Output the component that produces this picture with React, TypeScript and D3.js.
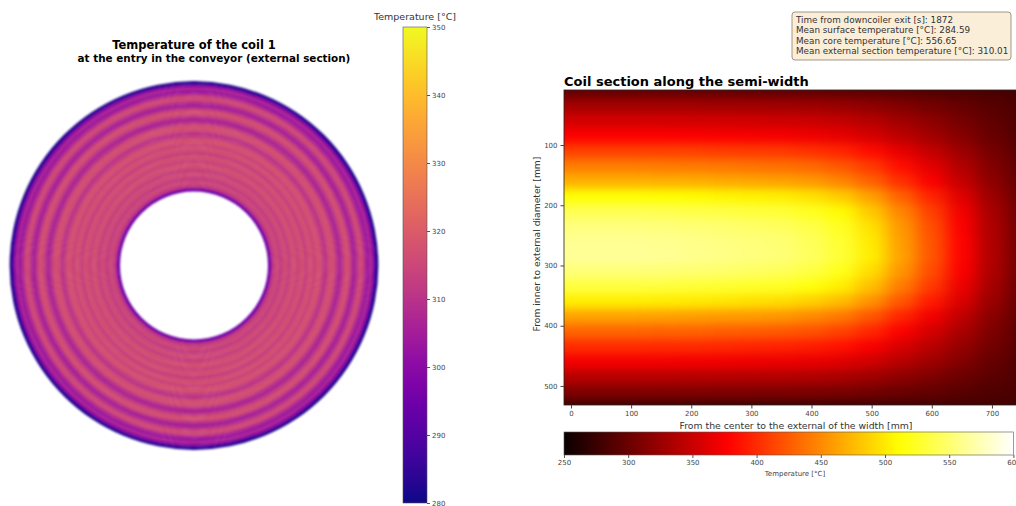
import React, { useEffect, useRef } from "react";
import * as d3 from "d3";

const W = 1016;
const H = 506;

// left panel: temperature across the coil thickness, inner edge -> outer edge [°C]
const ringTemps = [
  295, 309, 314, 315, 312, 315, 316, 313, 316, 317, 314, 316, 317, 313, 316, 317,
  314, 317, 317, 313, 310, 315, 317, 316, 310, 306, 311, 316, 317, 311, 305, 309,
  315, 315, 308, 303, 307, 300, 283,
];
const ringTicks = [280, 290, 300, 310, 320, 330, 340, 350];

// right panel: section grid, columns = position along the width [mm], rows = depth from inner diameter [mm]
const widthPos = [0, 50, 100, 150, 200, 250, 300, 350, 400, 450, 500, 550, 600, 650, 700, 750];
const depthPos = [10, 35, 60, 85, 110, 135, 160, 185, 210, 235, 260, 285, 310, 335, 360, 385, 410, 435, 460, 485, 510, 535];
const sectionTemps = [
  [297, 297, 297, 297, 297, 297, 296, 296, 296, 295, 293, 291, 288, 286, 283, 281],
  [330, 330, 330, 330, 330, 329, 329, 328, 327, 324, 319, 312, 305, 298, 290, 284],
  [355, 355, 355, 355, 354, 354, 353, 352, 350, 346, 339, 328, 318, 306, 295, 286],
  [377, 377, 377, 377, 376, 375, 374, 373, 370, 365, 356, 342, 329, 314, 299, 288],
  [412, 412, 412, 411, 411, 409, 408, 407, 403, 396, 383, 364, 346, 326, 306, 291],
  [443, 443, 443, 442, 441, 440, 438, 436, 432, 423, 407, 384, 362, 337, 313, 293],
  [470, 470, 470, 469, 468, 466, 464, 462, 457, 447, 428, 402, 375, 347, 318, 295],
  [512, 512, 512, 511, 510, 507, 505, 503, 496, 484, 461, 428, 396, 361, 326, 299],
  [540, 540, 540, 539, 537, 535, 532, 530, 522, 509, 482, 447, 410, 371, 332, 301],
  [555, 555, 555, 554, 552, 550, 547, 544, 536, 522, 495, 456, 418, 376, 335, 302],
  [562, 562, 562, 561, 559, 556, 554, 551, 542, 528, 500, 460, 421, 379, 336, 303],
  [564, 564, 564, 563, 561, 558, 555, 553, 544, 530, 502, 462, 422, 379, 337, 303],
  [553, 553, 553, 552, 550, 548, 545, 542, 534, 520, 493, 455, 417, 376, 335, 302],
  [533, 533, 533, 532, 530, 528, 525, 523, 515, 502, 477, 442, 407, 368, 331, 300],
  [502, 502, 502, 501, 500, 498, 495, 493, 486, 475, 453, 422, 391, 358, 324, 298],
  [462, 462, 462, 461, 460, 458, 457, 455, 449, 440, 422, 396, 371, 344, 316, 295],
  [430, 430, 430, 429, 429, 427, 426, 424, 420, 412, 397, 376, 355, 333, 310, 292],
  [400, 400, 400, 399, 399, 398, 396, 395, 392, 386, 374, 357, 340, 322, 304, 290],
  [372, 372, 372, 372, 371, 370, 369, 368, 366, 361, 352, 339, 326, 312, 298, 287],
  [340, 340, 340, 340, 339, 339, 338, 338, 336, 333, 327, 318, 310, 301, 292, 285],
  [312, 312, 312, 312, 312, 311, 311, 311, 310, 308, 305, 300, 296, 291, 286, 283],
  [278, 278, 278, 278, 278, 278, 278, 278, 278, 278, 278, 279, 279, 279, 280, 280],
];
const sectionXTicks = [0, 100, 200, 300, 400, 500, 600, 700];
const sectionYTicks = [100, 200, 300, 400, 500];
const hotTicks = [250, 300, 350, 400, 450, 500, 550, 600];

const infoLines = [
  "Time from downcoiler exit [s]: 1872",
  "Mean surface temperature [°C]: 284.59",
  "Mean core temperature [°C]: 556.65",
  "Mean external section temperature [°C]: 310.01",
];

// matplotlib "hot" colormap
function hot(t: number) {
  const c = (v: number) => Math.max(0, Math.min(1, v));
  const r = c(0.0416 + (t * (1 - 0.0416)) / 0.365079);
  const g = c((t - 0.365079) / (0.746032 - 0.365079));
  const b = c((t - 0.746032) / (1 - 0.746032));
  return d3.rgb(r * 255, g * 255, b * 255).toString();
}

const FONT = "DejaVu Sans, Verdana, sans-serif";

export default function App() {
  const ref = useRef<SVGSVGElement>(null);

  useEffect(() => {
    const svg = d3.select(ref.current);
    svg.selectAll("*").remove();
    const defs = svg.append("defs");

    // ---------- left: coil ring ----------
    const plasma = d3.scaleSequential(d3.interpolatePlasma).domain([280, 350]);
    const rScale = d3.scaleLinear().domain([0, ringTemps.length]).range([74, 184]);
    const arc = d3.arc<any>();

    const ringBlur = defs.append("filter").attr("id", "ringBlur")
      .attr("color-interpolation-filters", "sRGB");
    ringBlur.append("feGaussianBlur").attr("stdDeviation", 0.9);

    svg.append("g")
      .attr("transform", "translate(194,265.5)")
      .attr("filter", "url(#ringBlur)")
      .selectAll("path")
      .data(ringTemps)
      .join("path")
      .attr("d", (d, i) => arc({ innerRadius: rScale(i), outerRadius: rScale(i + 1) + 0.4, startAngle: 0, endAngle: 2 * Math.PI }))
      .attr("fill", (d) => plasma(d));

    svg.append("text").attr("x", 194).attr("y", 49).attr("text-anchor", "middle")
      .attr("font-size", 11.5).attr("font-weight", "bold").text("Temperature of the coil 1");
    svg.append("text").attr("x", 214).attr("y", 61.5).attr("text-anchor", "middle")
      .attr("font-size", 10.4).attr("font-weight", "bold").text("at the entry in the conveyor (external section)");

    // vertical colorbar
    const cbY = d3.scaleLinear().domain([280, 350]).range([503, 27]);
    const vGrad = defs.append("linearGradient").attr("id", "plasmaGrad")
      .attr("x1", 0).attr("y1", 1).attr("x2", 0).attr("y2", 0);
    d3.range(0, 1.0001, 0.05).forEach((t) => {
      vGrad.append("stop").attr("offset", t).attr("stop-color", plasma(280 + t * 70));
    });
    svg.append("rect").attr("x", 403).attr("y", 27).attr("width", 24).attr("height", 476)
      .attr("fill", "url(#plasmaGrad)").attr("stroke", "#555").attr("stroke-width", 0.6);
    const cbAxis = svg.append("g").attr("transform", "translate(427,0)")
      .call(d3.axisRight(cbY).tickValues(ringTicks).tickSize(3).tickPadding(2));
    cbAxis.select(".domain").remove();
    cbAxis.selectAll("text").attr("font-size", 7).attr("fill", "#444").attr("font-family", FONT);
    cbAxis.selectAll("line").attr("stroke", "#555");
    svg.append("text").attr("x", 415).attr("y", 20).attr("text-anchor", "middle")
      .attr("font-size", 9.5).attr("fill", "#333").text("Temperature [°C]");

    // ---------- right: coil section ----------
    const x = d3.scaleLinear().domain([-11.6, 745]).range([564, 1019]);
    const y = d3.scaleLinear().domain([8.7, 531.6]).range([90, 405]);
    const heat = (v: number) => hot((v - 250) / 350);

    defs.append("clipPath").attr("id", "plotClip").append("rect")
      .attr("x", 564).attr("y", 90).attr("width", 1019 - 564).attr("height", 315);
    const smooth = defs.append("filter").attr("id", "smooth")
      .attr("x", "-5%").attr("y", "-5%").attr("width", "110%").attr("height", "110%")
      .attr("color-interpolation-filters", "sRGB");
    smooth.append("feGaussianBlur").attr("stdDeviation", "9 5");
    smooth.append("feComponentTransfer").append("feFuncA").attr("type", "linear").attr("slope", 8);

    const cells = sectionTemps.flatMap((row, i) => row.map((v, j) => ({ w: widthPos[j], d: depthPos[i], v })));
    svg.append("g").attr("clip-path", "url(#plotClip)")
      .append("g").attr("filter", "url(#smooth)")
      .selectAll("rect")
      .data(cells)
      .join("rect")
      .attr("x", (c) => x(c.w - 25))
      .attr("y", (c) => y(c.d - 12.5))
      .attr("width", x(25) - x(-25) + 0.5)
      .attr("height", y(12.5) - y(-12.5) + 0.5)
      .attr("fill", (c) => heat(c.v));

    svg.append("rect").attr("x", 564).attr("y", 90).attr("width", 1019 - 564).attr("height", 315)
      .attr("fill", "none").attr("stroke", "#222").attr("stroke-width", 0.8);

    const xAxis = svg.append("g").attr("transform", "translate(0,405)")
      .call(d3.axisBottom(x).tickValues(sectionXTicks).tickSize(3.5).tickPadding(2.5));
    const yAxis = svg.append("g").attr("transform", "translate(564,0)")
      .call(d3.axisLeft(y).tickValues(sectionYTicks).tickSize(3.5).tickPadding(3));
    [xAxis, yAxis].forEach((a) => {
      a.select(".domain").remove();
      a.selectAll("text").attr("font-size", 7).attr("fill", "#444").attr("font-family", FONT);
      a.selectAll("line").attr("stroke", "#444");
    });

    svg.append("text").attr("x", 564).attr("y", 86).attr("font-size", 13).attr("font-weight", "bold")
      .text("Coil section along the semi-width");
    svg.append("text").attr("x", 796).attr("y", 428.5).attr("text-anchor", "middle")
      .attr("font-size", 9.3).attr("fill", "#333").text("From the center to the external of the width [mm]");
    svg.append("text").attr("transform", "translate(540,244) rotate(-90)").attr("text-anchor", "middle")
      .attr("font-size", 9.2).attr("fill", "#333").text("From inner to external diameter [mm]");

    // horizontal colorbar
    const hx = d3.scaleLinear().domain([250, 600]).range([564, 1013.4]);
    const hGrad = defs.append("linearGradient").attr("id", "hotGrad")
      .attr("x1", 0).attr("y1", 0).attr("x2", 1).attr("y2", 0);
    d3.range(0, 1.0001, 0.02).forEach((t) => {
      hGrad.append("stop").attr("offset", t).attr("stop-color", hot(t));
    });
    svg.append("rect").attr("x", 564).attr("y", 432).attr("width", 1013.4 - 564).attr("height", 23)
      .attr("fill", "url(#hotGrad)").attr("stroke", "#555").attr("stroke-width", 0.6);
    const hAxis = svg.append("g").attr("transform", "translate(0,455)")
      .call(d3.axisBottom(hx).tickValues(hotTicks).tickSize(3).tickPadding(2));
    hAxis.select(".domain").remove();
    hAxis.selectAll("text").attr("font-size", 7).attr("fill", "#444").attr("font-family", FONT);
    hAxis.selectAll("line").attr("stroke", "#555");
    svg.append("text").attr("x", 795).attr("y", 476).attr("text-anchor", "middle")
      .attr("font-size", 7).attr("fill", "#444").text("Temperature [°C]");

    // info box
    svg.append("rect").attr("x", 792).attr("y", 12).attr("width", 219).attr("height", 48).attr("rx", 3)
      .attr("fill", "rgb(250,238,217)").attr("stroke", "#8a8070").attr("stroke-width", 0.8);
    svg.append("g").selectAll("text").data(infoLines).join("text")
      .attr("x", 796).attr("y", (d, i) => 23 + i * 10.3)
      .attr("font-size", 8.8).attr("fill", "#333").text((d) => d);
  }, []);

  return (
    <div style={{ position: "absolute", left: 0, top: 0 }}>
      <svg ref={ref} width={W} height={H} style={{ display: "block", background: "#fff", fontFamily: FONT }} />
    </div>
  );
}
